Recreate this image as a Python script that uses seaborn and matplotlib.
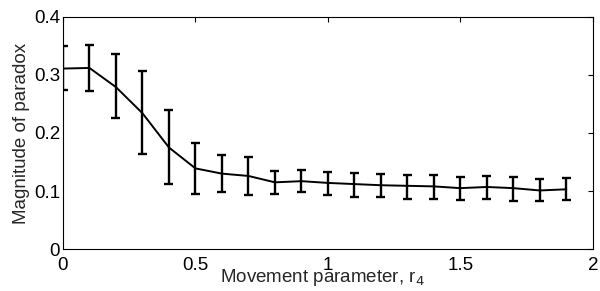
import numpy as np
import seaborn as sns
import matplotlib.pyplot as plt

# movement parameter r4 and the measured paradox magnitude
r4 = [0.0, 0.1, 0.2, 0.3, 0.4, 0.5, 0.6, 0.7, 0.8, 0.9,
      1.0, 1.1, 1.2, 1.3, 1.4, 1.5, 1.6, 1.7, 1.8, 1.9]
magnitude = [0.311, 0.312, 0.279, 0.234, 0.175, 0.139, 0.130, 0.126, 0.115, 0.117,
             0.114, 0.112, 0.110, 0.109, 0.108, 0.105, 0.107, 0.105, 0.101, 0.103]
upper = [0.350, 0.351, 0.336, 0.306, 0.240, 0.182, 0.162, 0.158, 0.135, 0.137,
         0.133, 0.131, 0.129, 0.128, 0.128, 0.124, 0.126, 0.124, 0.120, 0.123]
lower = [0.274, 0.273, 0.226, 0.164, 0.112, 0.095, 0.098, 0.094, 0.095, 0.098,
         0.093, 0.090, 0.089, 0.087, 0.086, 0.084, 0.086, 0.083, 0.082, 0.085]

sns.set_theme(style="white")
plt.rcParams['font.family'] = ['Liberation Sans', 'DejaVu Sans']

fig = plt.figure(figsize=(6, 2.91), dpi=100)
ax = fig.add_axes([0.105, 0.144, 0.883, 0.798])

x = np.array(r4)
mag = np.array(magnitude)
yerr = [mag - np.array(lower), np.array(upper) - mag]
ax.errorbar(x, mag, yerr=yerr, fmt='none', ecolor='black', elinewidth=1.7, capsize=0)
# caps as short lines so the ones at x=0 get cut by the axes box
cap_w = 0.017
ax.hlines(upper, x - cap_w, x + cap_w, color='black', linewidth=1.7)
ax.hlines(lower, x - cap_w, x + cap_w, color='black', linewidth=1.7)
sns.lineplot(x=x, y=mag, ax=ax, color='black', linewidth=1.4)

ax.set_xlim(0, 2)
ax.set_ylim(0, 0.4)
ax.set_xticks([0, 0.5, 1, 1.5, 2])
ax.set_xticklabels(['0', '0.5', '1', '1.5', '2'])
ax.set_yticks([0, 0.1, 0.2, 0.3, 0.4])
ax.set_yticklabels(['0', '0.1', '0.2', '0.3', '0.4'])
ax.tick_params(direction='in', length=3.8, width=0.8, top=True, right=True,
               labelsize=13.5, colors='black')
ax.tick_params(axis='x', pad=6)
ax.tick_params(axis='y', pad=2)
for s in ax.spines.values():
    s.set_color('black')
    s.set_linewidth(0.8)

ax.set_xlabel('Movement parameter, r$_4$', fontsize=13.5)
ax.xaxis.set_label_coords(0.49, -0.075)
ax.set_ylabel('Magnitude of paradox', fontsize=13.5, labelpad=3)

fig.savefig('out.png', dpi=100)
